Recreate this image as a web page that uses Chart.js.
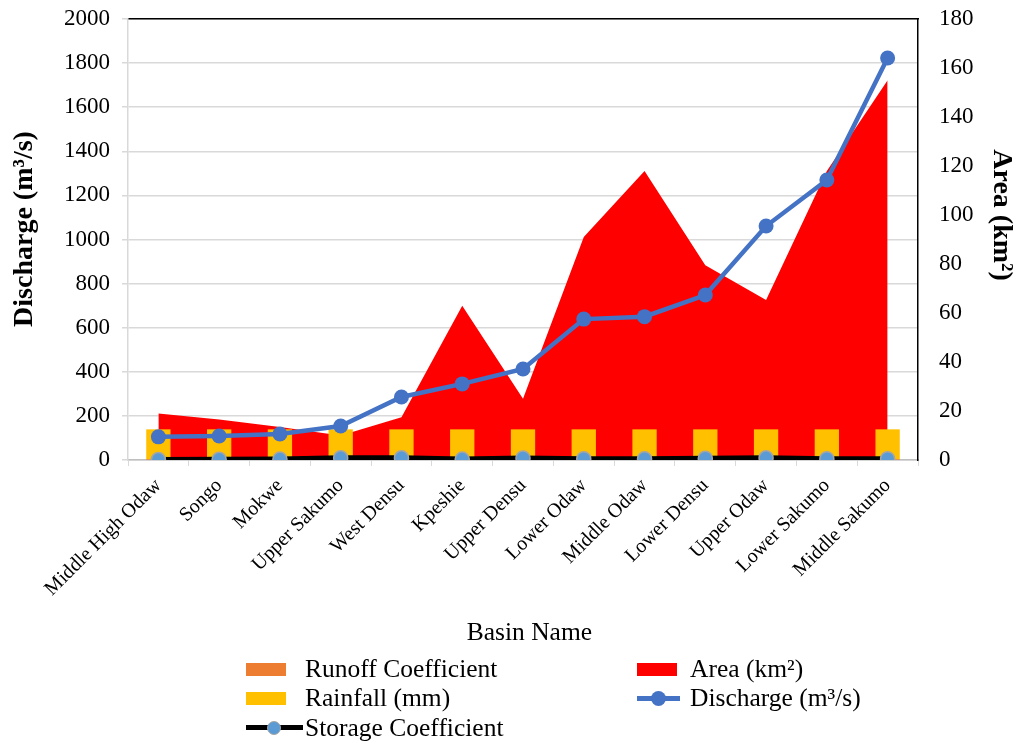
<!DOCTYPE html>
<html>
<head>
<meta charset="utf-8">
<script src="https://cdn.jsdelivr.net/npm/chart.js@4/dist/chart.umd.min.js"></script>
<style>
  html, body { margin: 0; padding: 0; background: #fff; }
  #wrap { position: relative; width: 1016px; height: 745px; }
  #chart { position: absolute; left: 0; top: 0; }
  #legend {
    position: absolute; left: 246px; top: 654px; width: 770px;
    display: grid; grid-template-columns: 391px 379px;
    font-family: "Liberation Serif", "Times New Roman", serif; font-size: 25.5px; color: #000;
  }
  .item { display: flex; align-items: center; height: 29.5px; white-space: nowrap; }
  .sw { height: 26px; position: relative; flex: none; }
</style>
</head>
<body>
<div id="wrap">
  <canvas id="chart" width="1016" height="745"></canvas>
  <div id="legend"></div>
</div>
<script>
const basins = [
  'Middle High Odaw', 'Songo', 'Mokwe', 'Upper Sakumo', 'West Densu', 'Kpeshie',
  'Upper Densu', 'Lower Odaw', 'Middle Odaw', 'Lower Densu', 'Upper Odaw',
  'Lower Sakumo', 'Middle Sakumo',
];
// left axis (m³/s)
const discharge = [105, 109, 118, 154, 286, 345, 413, 639, 650, 748, 1061, 1270, 1823];
const rainfall = [139, 139, 139, 139, 139, 139, 139, 139, 139, 139, 139, 139, 139];
const runoffCoef = [0.4, 0.4, 0.4, 0.4, 0.4, 0.4, 0.4, 0.4, 0.4, 0.4, 0.4, 0.4, 0.4];
const storageCoef = [2, 3, 4, 10, 10, 4, 9, 6, 6, 8, 10, 6, 6];
// right axis (km²)
const area = [19, 16.5, 13.5, 10, 17.5, 63, 25, 91, 118, 79.5, 65.3, 118, 155];

const leftTicks = [0, 200, 400, 600, 800, 1000, 1200, 1400, 1600, 1800, 2000];
const rightTicks = [0, 20, 40, 60, 80, 100, 120, 140, 160, 180];

const FONT = '"Liberation Serif", "Times New Roman", serif';
Chart.defaults.font.family = FONT;
Chart.defaults.color = '#000';

const NB = '\u00A0';

const ctx = document.getElementById('chart').getContext('2d');
const chart = new Chart(ctx, {
  type: 'bar',
  data: {
    labels: basins,
    datasets: [
      {
        label: 'Runoff Coefficient',
        data: runoffCoef,
        backgroundColor: '#ED7D31',
        yAxisID: 'y',
        grouped: false,
        barPercentage: 0.4, categoryPercentage: 1,
        order: 4,
      },
      {
        label: 'Area (km²)',
        type: 'line',
        data: area,
        backgroundColor: '#FF0000',
        borderColor: '#FF0000',
        borderWidth: 0,
        pointRadius: 0,
        fill: 'origin',
        tension: 0,
        yAxisID: 'y1',
        order: 10,
      },
      {
        label: 'Rainfall (mm)',
        data: rainfall,
        backgroundColor: '#FFC000',
        yAxisID: 'y',
        grouped: false,
        barPercentage: 0.4, categoryPercentage: 1,
        order: 5,
      },
      {
        label: 'Discharge (m³/s)',
        type: 'line',
        data: discharge,
        borderColor: '#4472C4',
        backgroundColor: '#4472C4',
        borderWidth: 4.5,
        pointRadius: 7.5,
        pointBorderWidth: 0,
        pointBackgroundColor: '#4472C4',
        tension: 0,
        yAxisID: 'y',
        order: 1,
      },
      {
        label: 'Storage Coefficient',
        type: 'line',
        data: storageCoef,
        borderColor: '#000000',
        backgroundColor: '#5B9BD5',
        borderWidth: 5,
        pointRadius: 7,
        pointBorderWidth: 1.5,
        pointBorderColor: '#A5A5A5',
        pointBackgroundColor: '#5B9BD5',
        tension: 0,
        yAxisID: 'y',
        order: 2,
      },
    ],
  },
  options: {
    responsive: false,
    animation: false,
    layout: { padding: { left: 0, right: 0, top: 0, bottom: 96 } },
    plugins: {
      legend: { display: false },
      tooltip: { enabled: false },
    },
    scales: {
      x: {
        offset: true,
        afterFit: (axis) => { axis.height = 189; axis.paddingLeft = 0; axis.paddingRight = 0; },
        grid: { display: true, drawOnChartArea: false, offset: true, color: '#D9D9D9', tickLength: 6 },
        border: { color: '#BFBFBF', width: 1.5 },
        ticks: { font: { size: 20 }, minRotation: 45, maxRotation: 45, padding: 8 },
        title: { display: true, text: NB.repeat(2) + 'Basin Name', font: { size: 25.5 }, padding: { bottom: 0 } },
      },
      xTop: {
        position: 'top',
        afterFit: (axis) => { axis.height = 19; axis.paddingLeft = 0; axis.paddingRight = 0; },
        grid: { display: false },
        ticks: { display: false },
        border: { color: '#000', width: 1.5 },
      },
      y: {
        position: 'left',
        min: 0, max: 2000,
        afterFit: (axis) => { axis.width = 128; axis.paddingTop = 0; axis.paddingBottom = 0; },
        afterBuildTicks: (axis) => { axis.ticks = leftTicks.map(v => ({ value: v })); },
        grid: { color: '#D9D9D9', lineWidth: 1.5, tickLength: 6 },
        border: { color: '#D9D9D9', width: 1.5 },
        ticks: { font: { size: 23 }, padding: 12, callback: (v) => String(v) },
        title: {
          display: true,
          text: NB.repeat(3) + 'Discharge (m³/s)',
          font: { size: 28, weight: 'bold' },
          padding: { top: 8 },
        },
      },
      y1: {
        position: 'right',
        min: 0, max: 180,
        afterFit: (axis) => { axis.width = 98; axis.paddingTop = 0; axis.paddingBottom = 0; },
        afterBuildTicks: (axis) => { axis.ticks = rightTicks.map(v => ({ value: v })); },
        grid: { display: false, drawTicks: false },
        border: { color: '#000', width: 1.5 },
        ticks: { font: { size: 23 }, padding: 21, callback: (v) => String(v) },
        title: {
          display: true,
          text: 'Area (km²)' + NB.repeat(7),
          font: { size: 28, weight: 'bold' },
          padding: { top: -2 },
        },
      },
    },
  },
});

// legend laid out in the two-column grid of the reference
const legendEl = document.getElementById('legend');
const swatchWidths = [59, 53, 59, 53, 59];
chart.data.datasets.forEach((ds, i) => {
  const item = document.createElement('div');
  item.className = 'item';
  const sw = document.createElement('div');
  sw.className = 'sw';
  sw.style.width = swatchWidths[i] + 'px';
  if (ds.type === 'line' && ds.pointRadius > 0) {
    const lw = Math.round(ds.borderWidth);
    sw.innerHTML = `<div style="position:absolute;left:0;top:${13 - lw / 2}px;width:${i === 4 ? 57 : 43}px;height:${lw}px;background:${ds.borderColor}"></div>
      <div style="position:absolute;left:${(i === 4 ? 28 : 21) - ds.pointRadius}px;top:${13 - ds.pointRadius}px;width:${ds.pointRadius * 2}px;height:${ds.pointRadius * 2}px;border-radius:50%;background:${ds.pointBackgroundColor};box-sizing:border-box;border:${ds.pointBorderWidth}px solid ${ds.pointBorderColor || ds.pointBackgroundColor}"></div>`;
  } else {
    sw.innerHTML = `<div style="position:absolute;left:0;top:7px;width:40px;height:13px;background:${ds.backgroundColor}"></div>`;
  }
  item.appendChild(sw);
  const t = document.createElement('span');
  t.textContent = ds.label;
  item.appendChild(t);
  legendEl.appendChild(item);
});
</script>
</body>
</html>
